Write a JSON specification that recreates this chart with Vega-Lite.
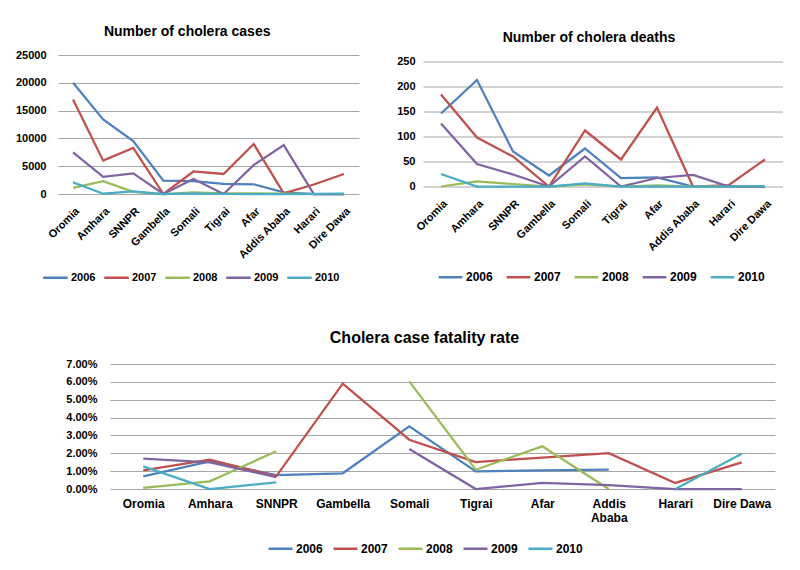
{
  "$schema": "https://vega.github.io/schema/vega-lite/v6.json",
  "background": "white",
  "padding": {"left": 15, "top": 25, "right": 0, "bottom": 0},
  "data": {"values": [
    {"region": "Oromia", "year": "2006", "cases": 20000, "deaths": 146, "cfr": 0.0071},
    {"region": "Amhara", "year": "2006", "cases": 13400, "deaths": 213, "cfr": 0.0155},
    {"region": "SNNPR", "year": "2006", "cases": 9500, "deaths": 70, "cfr": 0.0078},
    {"region": "Gambella", "year": "2006", "cases": 2400, "deaths": 22, "cfr": 0.0088},
    {"region": "Somali", "year": "2006", "cases": 2300, "deaths": 76, "cfr": 0.0351},
    {"region": "Tigrai", "year": "2006", "cases": 1800, "deaths": 17, "cfr": 0.0099},
    {"region": "Afar", "year": "2006", "cases": 1750, "deaths": 18, "cfr": 0.0104},
    {"region": "Addis Ababa", "year": "2006", "cases": 300, "deaths": 0, "cfr": 0.0108},
    {"region": "Harari", "year": "2006", "cases": 0, "deaths": 0, "cfr": null},
    {"region": "Dire Dawa", "year": "2006", "cases": 0, "deaths": 0, "cfr": null},
    {"region": "Oromia", "year": "2007", "cases": 17000, "deaths": 184, "cfr": 0.0104},
    {"region": "Amhara", "year": "2007", "cases": 6000, "deaths": 98, "cfr": 0.0164},
    {"region": "SNNPR", "year": "2007", "cases": 8300, "deaths": 60, "cfr": 0.0071},
    {"region": "Gambella", "year": "2007", "cases": 0, "deaths": 0, "cfr": 0.059},
    {"region": "Somali", "year": "2007", "cases": 4050, "deaths": 112, "cfr": 0.0276},
    {"region": "Tigrai", "year": "2007", "cases": 3600, "deaths": 54, "cfr": 0.0151},
    {"region": "Afar", "year": "2007", "cases": 9000, "deaths": 158, "cfr": 0.0176},
    {"region": "Addis Ababa", "year": "2007", "cases": 100, "deaths": 0, "cfr": 0.0201},
    {"region": "Harari", "year": "2007", "cases": 1700, "deaths": 3, "cfr": 0.0034},
    {"region": "Dire Dawa", "year": "2007", "cases": 3600, "deaths": 54, "cfr": 0.0149},
    {"region": "Oromia", "year": "2008", "cases": 1100, "deaths": 0, "cfr": 0.0006},
    {"region": "Amhara", "year": "2008", "cases": 2300, "deaths": 10, "cfr": 0.0043},
    {"region": "SNNPR", "year": "2008", "cases": 400, "deaths": 5, "cfr": 0.0211},
    {"region": "Gambella", "year": "2008", "cases": 0, "deaths": 0, "cfr": null},
    {"region": "Somali", "year": "2008", "cases": 300, "deaths": 4, "cfr": 0.0603},
    {"region": "Tigrai", "year": "2008", "cases": 100, "deaths": 0, "cfr": 0.0108},
    {"region": "Afar", "year": "2008", "cases": 100, "deaths": 2, "cfr": 0.0239},
    {"region": "Addis Ababa", "year": "2008", "cases": 50, "deaths": 0, "cfr": 0},
    {"region": "Harari", "year": "2008", "cases": 0, "deaths": 0, "cfr": null},
    {"region": "Dire Dawa", "year": "2008", "cases": 0, "deaths": 0, "cfr": null},
    {"region": "Oromia", "year": "2009", "cases": 7500, "deaths": 126, "cfr": 0.017},
    {"region": "Amhara", "year": "2009", "cases": 3100, "deaths": 45, "cfr": 0.0149},
    {"region": "SNNPR", "year": "2009", "cases": 3700, "deaths": 24, "cfr": 0.0067},
    {"region": "Gambella", "year": "2009", "cases": 0, "deaths": 0, "cfr": null},
    {"region": "Somali", "year": "2009", "cases": 2700, "deaths": 60, "cfr": 0.0224},
    {"region": "Tigrai", "year": "2009", "cases": 0, "deaths": 0, "cfr": 0},
    {"region": "Afar", "year": "2009", "cases": 5200, "deaths": 17, "cfr": 0.0034},
    {"region": "Addis Ababa", "year": "2009", "cases": 8800, "deaths": 23, "cfr": 0.0022},
    {"region": "Harari", "year": "2009", "cases": 0, "deaths": 0, "cfr": 0},
    {"region": "Dire Dawa", "year": "2009", "cases": 0, "deaths": 0, "cfr": 0},
    {"region": "Oromia", "year": "2010", "cases": 2100, "deaths": 25, "cfr": 0.0127},
    {"region": "Amhara", "year": "2010", "cases": 50, "deaths": 0, "cfr": 0},
    {"region": "SNNPR", "year": "2010", "cases": 450, "deaths": 0, "cfr": 0.0037},
    {"region": "Gambella", "year": "2010", "cases": 0, "deaths": 0, "cfr": null},
    {"region": "Somali", "year": "2010", "cases": 100, "deaths": 6, "cfr": null},
    {"region": "Tigrai", "year": "2010", "cases": 0, "deaths": 0, "cfr": null},
    {"region": "Afar", "year": "2010", "cases": 0, "deaths": 0, "cfr": null},
    {"region": "Addis Ababa", "year": "2010", "cases": 0, "deaths": 0, "cfr": null},
    {"region": "Harari", "year": "2010", "cases": 30, "deaths": 0, "cfr": 0},
    {"region": "Dire Dawa", "year": "2010", "cases": 50, "deaths": 1, "cfr": 0.0198}
  ]},
  "config": {
    "font": "Liberation Sans",
    "view": {"stroke": null},
    "axis": {"labelFontWeight": "bold", "labelColor": "#000000", "labelFontSize": 11, "ticks": false, "domain": false, "title": null},
    "axisX": {"grid": false},
    "axisY": {"grid": true, "gridColor": "#a6a6a6", "gridWidth": 1},
    "title": {"fontWeight": "bold", "color": "#000000"},
    "legend": {"orient": "none", "direction": "horizontal", "title": null, "symbolType": "stroke", "symbolStrokeWidth": 2.5, "labelFontWeight": "bold", "labelColor": "#000000", "labelOffset": 2}
  },
  "spacing": 40,
  "resolve": {"scale": {"color": "independent"}},
  "vconcat": [
    {
      "spacing": 37,
      "center": true,
      "resolve": {"scale": {"color": "independent"}},
      "hconcat": [
        {
          "title": {"text": "Number of cholera cases", "fontSize": 14, "anchor": "middle", "frame": "bounds", "offset": 10},
          "width": 301,
          "height": 139,
          "mark": {"type": "line", "strokeWidth": 2.25},
          "encoding": {
            "x": {"field": "region", "type": "nominal", "sort": ["Oromia", "Amhara", "SNNPR", "Gambella", "Somali", "Tigrai", "Afar", "Addis Ababa", "Harari", "Dire Dawa"], "scale": {"type": "point", "padding": 0.5}, "axis": {"labelAngle": -45, "labelPadding": 11}},
            "y": {"field": "cases", "type": "quantitative", "scale": {"domain": [0, 25000]}, "axis": {"values": [0, 5000, 10000, 15000, 20000, 25000], "format": "d", "labelPadding": 12}},
            "color": {"field": "year", "type": "nominal", "scale": {"domain": ["2006", "2007", "2008", "2009", "2010"], "range": ["#4F81BD", "#C0504D", "#9BBB59", "#8064A2", "#4BACC6"]}, "legend": {"symbolSize": 600, "labelFontSize": 11, "columnPadding": 3, "padding": 7, "legendX": -23, "legendY": 202}}
          }
        },
        {
          "title": {"text": "Number of cholera deaths", "fontSize": 14, "anchor": "middle", "frame": "group", "dx": -14, "offset": 11},
          "width": 360,
          "height": 125,
          "mark": {"type": "line", "strokeWidth": 2.25},
          "encoding": {
            "x": {"field": "region", "type": "nominal", "sort": ["Oromia", "Amhara", "SNNPR", "Gambella", "Somali", "Tigrai", "Afar", "Addis Ababa", "Harari", "Dire Dawa"], "scale": {"type": "point", "padding": 0.5}, "axis": {"labelAngle": -45, "labelPadding": 11}},
            "y": {"field": "deaths", "type": "quantitative", "scale": {"domain": [0, 250]}, "axis": {"values": [0, 50, 100, 150, 200, 250], "labelPadding": 8}},
            "color": {"field": "year", "type": "nominal", "scale": {"domain": ["2006", "2007", "2008", "2009", "2010"], "range": ["#4F81BD", "#C0504D", "#9BBB59", "#8064A2", "#4BACC6"]}, "legend": {"symbolSize": 560, "labelFontSize": 12, "columnPadding": 8, "legendX": 14, "legendY": 202}}
          }
        }
      ]
    },
    {
      "spacing": 0,
      "resolve": {"scale": {"color": "independent"}},
      "hconcat": [
        {
          "data": {"values": []},
          "width": 7,
          "height": 125,
          "mark": "point",
          "encoding": {}
        },
        {
          "title": {"text": "Cholera case fatality rate", "fontSize": 16, "anchor": "middle", "frame": "group", "dx": -18, "offset": 12},
          "width": 665,
          "height": 125,
          "mark": {"type": "line", "strokeWidth": 2.25, "invalid": "break-paths-show-domains"},
          "encoding": {
            "x": {"field": "region", "type": "nominal", "sort": ["Oromia", "Amhara", "SNNPR", "Gambella", "Somali", "Tigrai", "Afar", "Addis Ababa", "Harari", "Dire Dawa"], "scale": {"type": "point", "padding": 0.5}, "axis": {"labelAngle": 0, "labelFontSize": 12, "labelPadding": 9, "labelExpr": "datum.label == 'Addis Ababa' ? ['Addis', 'Ababa'] : datum.label"}},
            "y": {"field": "cfr", "type": "quantitative", "scale": {"domain": [0, 0.07]}, "axis": {"values": [0, 0.01, 0.02, 0.03, 0.04, 0.05, 0.06, 0.07], "format": ".2%", "labelPadding": 13}},
            "color": {"field": "year", "type": "nominal", "scale": {"domain": ["2006", "2007", "2008", "2009", "2010"], "range": ["#4F81BD", "#C0504D", "#9BBB59", "#8064A2", "#4BACC6"]}, "legend": {"symbolSize": 576, "labelFontSize": 12, "columnPadding": 5, "legendX": 157, "legendY": 171}}
          }
        }
      ]
    }
  ]
}
